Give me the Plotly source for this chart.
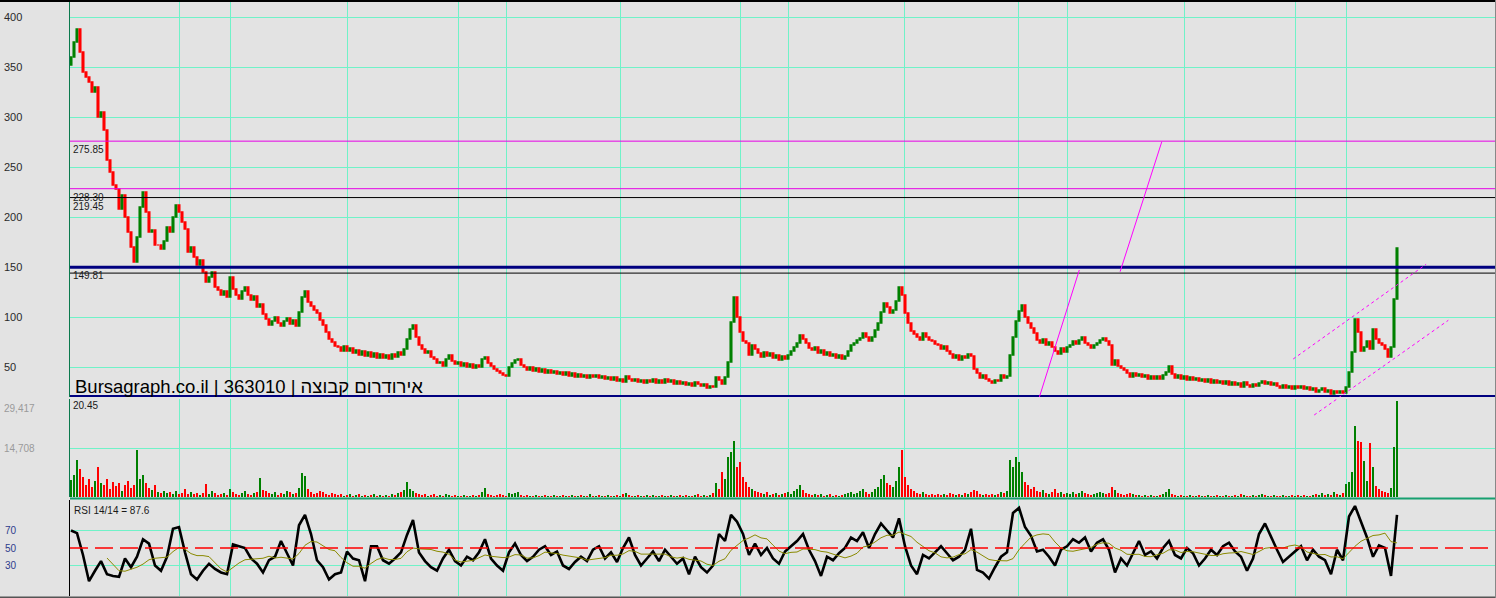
import plotly.graph_objects as go

# ---------------- data ----------------
first_open = 352
close = [
    # segment A
    360, 375, 388, 365, 345, 340, 335, 325, 330, 300, 305, 287, 257, 245,
    # segment B
    232, 228, 208, 222, 200, 185, 170, 155, 180, 210,
    225, 205, 185, 187, 172, 172, 168, 176, 190, 185,
    200, 212, 205, 195, 188, 165, 170, 160, 152, 157,
    145, 135, 140, 145, 130,
    # segment C
    127, 122, 126, 120, 140, 128, 122, 118, 126, 130,
    122, 117, 121, 110, 113, 103, 98, 92, 96, 100,
    94, 91, 96, 99, 93, 97, 91, 105, 120, 126,
    115, 111, 107, 104, 97, 92, 85, 78, 75, 71,
    70, 66, 71, 66, 69, 64, 67, 62, 66, 61,
    65, 60, 64, 59, 63, 59, 62, 58, 63, 60,
    65, 62, 68, 78, 88,
    # segment D
    92, 80, 72, 68, 64, 66, 60, 58, 54, 55,
    51, 58, 62, 56, 53, 55, 51, 54, 50, 53,
    49, 52, 50, 58, 60, 54, 51, 48, 46, 44,
    42, 41, 50, 54, 57, 58, 52, 50, 47, 50,
    46, 49, 45, 48, 44, 47, 44, 46, 43, 45,
    42, 45, 41, 44, 40, 43, 40, 42, 39, 42,
    40, 42, 39, 41, 38, 40, 37, 40, 36, 38,
    35, 41, 38, 36, 38, 35, 37, 34, 37, 35,
    38, 34, 37, 34, 38, 35, 37, 33, 36, 33,
    35, 32, 34, 31, 35, 33, 31, 33, 29, 31,
    30, 40, 37, 33, 40,
    # segment E
    55, 95, 120, 100, 85, 76, 74, 62, 72, 68,
    64, 60, 65, 61, 64, 59, 62, 57, 61, 58,
    62, 66, 70, 74, 82, 78, 74, 69, 67, 70,
    64, 67, 62, 65, 61, 63, 59, 62, 58, 61,
    66, 72, 74, 77, 79, 84, 80, 76, 80, 87,
    94, 105, 114, 110, 104, 107, 116, 130, 122, 104,
    94, 86, 83, 80, 77, 84, 80, 77, 76, 73,
    72, 68, 71, 66, 63, 59, 62, 57, 61, 59,
    63, 61, 48, 44, 39, 42, 38, 36, 34, 37,
    36, 42, 39, 41,
    # segment F
    62, 80, 96, 106, 112, 100, 94, 89, 84, 77,
    74, 78, 72, 75, 70, 66, 63, 69, 65, 70,
    72, 76, 73, 77, 80, 74, 72, 69, 72, 74,
    77, 79, 76, 72, 52, 57, 51, 49, 47, 44,
    40, 44, 41, 43, 40, 42, 38, 41, 38, 41,
    38, 42, 45, 51, 43, 39, 42, 38, 41, 37,
    40, 37, 39, 36, 38, 35, 38, 34, 37, 34,
    36, 33, 36, 32, 35, 32, 34, 30, 35, 32,
    30, 33, 31, 34, 36, 33, 35, 32, 34, 31,
    29, 32, 29, 31, 28, 31, 29,
    # segment G
    31, 28, 30, 27, 29, 25, 27, 29, 25, 27,
    23, 26, 24, 26, 24, 30, 45, 65, 98, 85,
    66, 70, 76, 68, 88, 78, 74, 72, 68, 60,
    70, 118, 169,
]

volume = [
    5200, 6700, 11300, 8600, 6100, 3700, 5500, 3100, 4900, 9200, 4300, 3700, 5500, 2400,
    4600, 3400, 4300, 1800, 3700, 4900, 2800, 3700, 14400, 5500,
    6700, 4300, 2800, 2100, 3700, 1500, 1200, 1800, 1200, 1500,
    900, 1800, 900, 1200, 2400, 900, 1500, 900, 1200, 600,
    1200, 3900, 900, 1800, 1200,
    600, 900, 1200, 600, 2400, 1500, 900, 600, 1200, 1800,
    900, 600, 1200, 1500, 5800, 2100, 1800, 1200, 900, 1500,
    600, 1200, 900, 1800, 1500, 900, 1200, 2700, 7300, 6500,
    2400, 1500, 900, 1200, 1800, 1500, 900, 600, 1200, 900,
    600, 900, 300, 600, 900, 300, 600, 900, 300, 600,
    300, 600, 900, 300, 600, 300, 600, 300, 900, 600,
    1200, 1500, 2100, 4600, 2500,
    1800, 1200, 900, 600, 900, 300, 600, 900, 300, 600,
    300, 900, 600, 300, 600, 300, 300, 600, 300, 300,
    600, 300, 600, 1500, 2700, 900, 600, 300, 600, 900,
    600, 300, 1200, 900, 1200, 1500, 600, 300, 600, 300,
    300, 600, 300, 300, 600, 300, 300, 600, 300, 300,
    600, 300, 300, 600, 300, 300, 600, 300, 300, 900,
    300, 300, 600, 300, 300, 600, 300, 300, 600, 300,
    900, 1200, 600, 300, 300, 600, 300, 300, 600, 300,
    600, 300, 300, 600, 300, 300, 600, 300, 300, 600,
    300, 600, 300, 300, 600, 900, 300, 600, 300, 600,
    1200, 4300, 2400, 7600, 5500,
    12200, 13800, 17100, 9200, 10700, 6100, 4600, 3100, 2400, 1800,
    1500, 1200, 900, 1500, 600, 900, 1200, 600, 900, 1200,
    1500, 900, 1800, 2400, 3700, 2100, 1200, 900, 600, 900,
    600, 900, 300, 600, 900, 300, 600, 300, 600, 900,
    1200, 1500, 900, 1200, 1800, 2400, 1500, 900, 1500, 2400,
    3100, 5500, 6700, 4300, 3700, 3100, 4900, 9200, 14400, 6100,
    3700, 2400, 1800, 1200, 900, 1500, 900, 600, 900, 600,
    900, 600, 900, 600, 1200, 900, 600, 900, 600, 1200,
    900, 1500, 2100, 1800, 900, 600, 900, 600, 900, 600,
    900, 1500, 1200, 1800,
    11300, 9200, 12200, 10700, 7600, 4600, 3700, 2400, 3100, 1800,
    1500, 2100, 1200, 900, 1500, 2400, 1200, 1500, 900, 1200,
    900, 1500, 900, 1200, 1800, 1200, 900, 600, 900, 1200,
    1500, 1200, 900, 1200, 3100, 2100, 1200, 900, 600, 900,
    1200, 900, 600, 600, 300, 600, 300, 600, 300, 300,
    600, 900, 1500, 2400, 900, 600, 300, 600, 300, 300,
    600, 300, 300, 600, 300, 300, 600, 300, 300, 600,
    300, 300, 600, 300, 300, 600, 300, 900, 600, 300,
    300, 600, 300, 600, 900, 600, 300, 300, 600, 300,
    300, 600, 300, 300, 600, 300, 600,
    300, 600, 300, 300, 600, 900, 600, 1200, 600, 900,
    600, 1500, 900, 600, 1200, 4000, 4600, 7700, 21700, 17100,
    16800, 11000, 4900, 16500, 9200, 3400, 2400, 1800, 1500, 1200,
    2800, 15300, 29400,
]

# RSI(14) read every second bar
rsi_step = 2
rsi = [
    70, 67, 42, 12, 24, 35, 20, 18, 17, 38, 28, 40, 60, 55, 30, 24, 40, 72, 74, 45,
    20, 14, 24, 32, 26, 22, 20, 54, 52, 50, 38, 32, 22, 36, 40, 58, 44, 30, 76, 88,
    66, 36, 28, 14, 20, 22, 46, 38, 36, 12, 52, 52, 36, 32, 38, 45, 65, 82, 45, 35,
    28, 24, 38, 48, 35, 30, 40, 36, 45, 60, 38, 30, 24, 45, 55, 42, 35, 40, 48, 52,
    42, 46, 30, 26, 34, 40, 35, 48, 52, 38, 45, 34, 50, 62, 42, 30, 38, 46, 35, 48,
    40, 32, 38, 20, 40, 28, 22, 30, 66, 58, 88, 80, 66, 42, 55, 42, 50, 38, 32, 46,
    52, 58, 66, 48, 35, 18, 40, 36, 44, 50, 62, 58, 68, 50, 66, 78, 70, 62, 84, 52,
    30, 20, 42, 38, 45, 52, 44, 36, 40, 48, 72, 25, 22, 15, 28, 40, 45, 90, 96, 74,
    64, 46, 48, 40, 30, 48, 52, 60, 56, 62, 46, 56, 60, 48, 22, 38, 30, 44, 58, 42,
    46, 38, 50, 58, 42, 38, 50, 44, 30, 38, 48, 42, 52, 56, 46, 40, 24, 38, 66, 78,
    62, 48, 34, 40, 46, 52, 36, 48, 40, 36, 20, 48, 36, 86, 98, 80, 62, 40, 53, 50,
    18, 88,
]
rsi_ma_len = 7  # 14 bars at two bars per reading

price_ticks = [50, 100, 150, 200, 250, 300, 350, 400]
volume_ticks = [14708, 29417]
volume_tick_text = ["14,708", "29,417"]
rsi_ticks = [30, 50, 70]

# month/quarter separators, as bar numbers
grid_bars = [36.3, 53, 92.3, 129.3, 145.3, 183.3, 223, 239.3, 277.7, 315.7, 332, 371.3, 408.3, 425]

magenta_levels = [275.85, 228.30]
black_levels = [219.45, 143.9]
navy_levels = [149.81, 20.45]
level_labels = {275.85: "275.85", 228.30: "228.30", 219.45: "219.45", 149.81: "149.81", 20.45: "20.45"}

# hand-drawn trend lines: (bar, price) -> (bar, price)
trend_solid = [((322.8, 20.0), (336.1, 147.0)), ((349.7, 145.3), (363.6, 275.3))]
trend_dotted = [((407.4, 58.0), (451.7, 152.7)), ((414.4, 2.0), (459.1, 96.7))]
# part of the lower channel line that runs into the volume pane: (bar, volume)
trend_dotted_vol = [((414.4, 25100), (422.0, 30000))]

title_text = "Bursagraph.co.il | 363010 | אירודרום קבוצה"
rsi_title = "RSI 14/14 = 87.6"

# ---------------- derived ----------------
n = len(close)
xs = list(range(n))
opens = [first_open] + close[:-1]
highs = [max(o, c) for o, c in zip(opens, close)]
lows = [min(o, c) for o, c in zip(opens, close)]
vcolors = ["#008000" if c >= o else "#ff0000" for o, c in zip(opens, close)]
rsi_x = [i * rsi_step for i in range(len(rsi))]
ma_x, ma_y = [], []
for i in range(rsi_ma_len - 1, len(rsi)):
    ma_x.append(rsi_x[i])
    ma_y.append(sum(rsi[i - rsi_ma_len + 1:i + 1]) / rsi_ma_len)

# ---------------- figure ----------------
W, H = 1496, 598
LEFT = 70
PW = W - LEFT
BG = "#e3e3e3"
GRID = "#70f2c8"
FONT = "Arial, Liberation Sans, sans-serif"


def px_x(p):
    return (p - LEFT) / PW


def px_y(p):
    return 1 - p / H


fig = go.Figure()
fig.add_trace(go.Candlestick(
    x=xs, open=opens, high=highs, low=lows, close=close,
    xaxis="x", yaxis="y",
    increasing=dict(line=dict(color="#008000", width=1.6), fillcolor="rgba(0,0,0,0)"),
    decreasing=dict(line=dict(color="#ff0000", width=1.6), fillcolor="#ff0000"),
    whiskerwidth=0, showlegend=False, hoverinfo="skip",
))
fig.add_trace(go.Bar(
    x=xs, y=volume, marker=dict(color=vcolors, line=dict(width=0)), width=0.6,
    xaxis="x2", yaxis="y2", showlegend=False, hoverinfo="skip",
))
fig.add_trace(go.Scatter(
    x=rsi_x, y=rsi, mode="lines", line=dict(color="#000000", width=2.6),
    xaxis="x3", yaxis="y3", showlegend=False, hoverinfo="skip",
))
fig.add_trace(go.Scatter(
    x=ma_x, y=ma_y, mode="lines", line=dict(color="#8a8a00", width=1),
    xaxis="x3", yaxis="y3", showlegend=False, hoverinfo="skip",
))

xrange = [-0.333, 475]
xcommon = dict(range=xrange, tickvals=grid_bars, showticklabels=False, showgrid=True,
               gridcolor=GRID, gridwidth=1, zeroline=False, ticks="", fixedrange=True)

fig.update_layout(
    width=W, height=H,
    margin=dict(l=LEFT, r=0, t=0, b=0),
    paper_bgcolor=BG, plot_bgcolor=BG,
    hovermode=False, showlegend=False,
    font=dict(family=FONT, size=11, color="#222"),
    bargap=0,
    xaxis=dict(domain=[0, 1], anchor="y", rangeslider=dict(visible=False), **xcommon),
    xaxis2=dict(domain=[0, 1], anchor="y2", **xcommon),
    xaxis3=dict(domain=[0, 1], anchor="y3", **xcommon),
    yaxis=dict(domain=[px_y(397), px_y(2)], range=[20, 415], tickvals=price_ticks,
               showticklabels=False, showgrid=True, gridcolor=GRID, zeroline=False,
               showline=True, linecolor="#0b7a4e", linewidth=1, ticks="", fixedrange=True),
    yaxis2=dict(domain=[px_y(497), px_y(399)], range=[0, 30000], tickvals=[volume_ticks[0]],
                showticklabels=False, showgrid=True, gridcolor=GRID, zeroline=False,
                showline=True, linecolor="#0b7a4e", linewidth=1, ticks="", fixedrange=True),
    yaxis3=dict(domain=[px_y(596), px_y(500)], range=[-4.9, 104.9], tickvals=[30, 70],
                showticklabels=False, showgrid=True, gridcolor=GRID, zeroline=False,
                showline=True, linecolor="#000000", linewidth=1, ticks="", fixedrange=True),
)

shapes = []
for v in magenta_levels:
    shapes.append(dict(type="line", xref="paper", yref="y", x0=0, x1=1, y0=v, y1=v,
                       line=dict(color="#e600e6", width=1)))
for v in black_levels:
    shapes.append(dict(type="line", xref="paper", yref="y", x0=0, x1=1, y0=v, y1=v,
                       line=dict(color="#000000", width=1)))
for v in navy_levels:
    shapes.append(dict(type="line", xref="paper", yref="y", x0=0, x1=1, y0=v, y1=v,
                       line=dict(color="#000080", width=3)))
for (a, b) in trend_solid:
    shapes.append(dict(type="line", xref="x", yref="y", x0=a[0], y0=a[1], x1=b[0], y1=b[1],
                       line=dict(color="#ff00ff", width=1)))
for (a, b) in trend_dotted:
    shapes.append(dict(type="line", xref="x", yref="y", x0=a[0], y0=a[1], x1=b[0], y1=b[1],
                       line=dict(color="#ff00ff", width=1, dash="dot")))
for (a, b) in trend_dotted_vol:
    shapes.append(dict(type="line", xref="x2", yref="y2", x0=a[0], y0=a[1], x1=b[0], y1=b[1],
                       line=dict(color="#ff00ff", width=1, dash="dot")))
# RSI mid line
shapes.append(dict(type="line", xref="paper", yref="y3", x0=0, x1=1, y0=50, y1=50,
                   line=dict(color="#ff0000", width=1.5, dash="18px,7px")))
# panel separators / frame
shapes.append(dict(type="line", xref="paper", yref="paper", x0=0, x1=1, y0=px_y(498.5), y1=px_y(498.5),
                   line=dict(color="#17a070", width=2)))
shapes.append(dict(type="line", xref="paper", yref="paper", x0=px_x(0), x1=1, y0=1, y1=1,
                   line=dict(color="#000000", width=4)))
shapes.append(dict(type="line", xref="paper", yref="paper", x0=px_x(0), x1=1, y0=0, y1=0,
                   line=dict(color="#555555", width=3)))
shapes.append(dict(type="line", xref="paper", yref="paper", x0=1, x1=1, y0=0, y1=1,
                   line=dict(color="#888888", width=2)))
fig.update_layout(shapes=shapes)

ann = []
for v in price_ticks:
    ann.append(dict(xref="paper", yref="y", x=px_x(2), y=v, xanchor="left", yanchor="middle",
                    text=str(v), showarrow=False, font=dict(size=11, color="#2a2a2a")))
ann.append(dict(xref="paper", yref="y2", x=px_x(2), y=volume_ticks[0], xanchor="left", yanchor="middle",
                text=volume_tick_text[0], showarrow=False, font=dict(size=10, color="#9a9a9a")))
ann.append(dict(xref="paper", yref="y2", x=px_x(2), y=volume_ticks[1], xanchor="left", yanchor="middle",
                yshift=-8, text=volume_tick_text[1], showarrow=False, font=dict(size=10, color="#9a9a9a")))
for v in rsi_ticks:
    ann.append(dict(xref="paper", yref="y3", x=px_x(3), y=v, xanchor="left", yanchor="middle",
                    text=str(v), showarrow=False, font=dict(size=10, color="#2e3c8c")))
for v, t in level_labels.items():
    ann.append(dict(xref="paper", yref="y", x=px_x(71), y=v, xanchor="left", yanchor="top", yshift=-1,
                    text=t, showarrow=False, font=dict(size=10, color="#1a1a1a")))
ann.append(dict(xref="paper", yref="paper", x=px_x(73), y=px_y(386), xanchor="left", yanchor="middle",
                text=title_text, showarrow=False, font=dict(size=18.5, color="#000000")))
ann.append(dict(xref="paper", yref="paper", x=px_x(72), y=px_y(510), xanchor="left", yanchor="middle",
                text=rsi_title, showarrow=False, font=dict(size=10, color="#1a1a1a")))
fig.update_layout(annotations=ann)

fig.write_html("out.html", config={"displayModeBar": False},
               post_script="document.body.style.margin='0px';")
